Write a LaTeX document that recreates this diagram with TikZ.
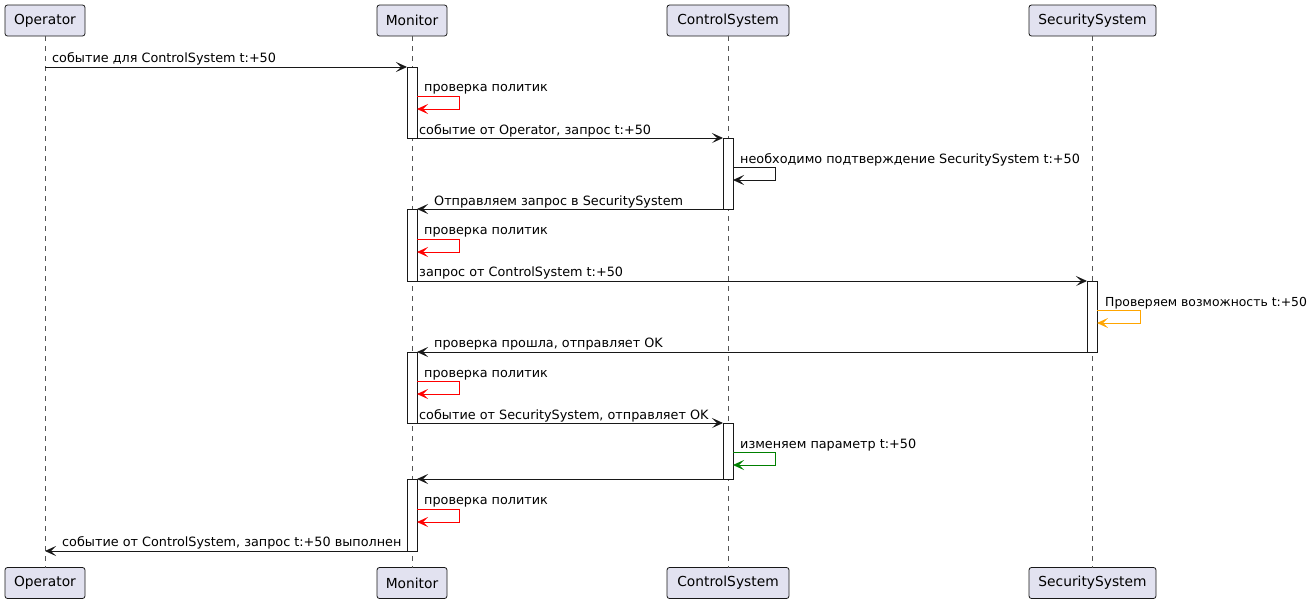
\documentclass[tikz,border=0pt]{standalone}
\usepackage{fontspec}
\setmainfont{DejaVu Sans}
\usetikzlibrary{arrows.meta}
\definecolor{partfill}{HTML}{E2E2F0}
\definecolor{partdraw}{HTML}{181818}
\definecolor{lifegray}{HTML}{555555}
\definecolor{myorange}{HTML}{FFA500}
\definecolor{mygreen}{HTML}{008000}
\begin{document}
\begin{tikzpicture}[x=1pt,y=-1pt,
  part/.style={draw=partdraw,fill=partfill,rounded corners=2.5pt,line width=0.8pt,minimum height=31pt,inner sep=0pt,outer sep=0pt,font=\fontsize{13.8}{16}\selectfont},
  life/.style={draw=lifegray,line width=0.6pt,dash pattern=on 5pt off 5pt},
  act/.style={draw=partdraw,fill=white,line width=0.9pt,minimum width=10pt,inner sep=0pt,outer sep=0pt},
  msg/.style={draw=partdraw,line width=0.9pt,-{Stealth[length=11pt,width=10pt,inset=5pt]}},
  selfmsg/.style={line width=0.9pt,-{Stealth[length=11pt,width=10pt,inset=5pt]}},
  lbl/.style={anchor=base west,inner sep=0pt,font=\fontsize{12.8}{15}\selectfont}
]
\useasboundingbox (0,0) rectangle (1314,603);
% participants
\node[part,minimum width=80pt] (opT) at (45,20.5) {Operator};
\node[part,minimum width=70pt] (moT) at (412,20.5) {Monitor};
\node[part,minimum width=122pt] (csT) at (728,20.5) {ControlSystem};
\node[part,minimum width=127pt] (ssT) at (1092.5,20.5) {SecuritySystem};
\node[part,minimum width=80pt] (opB) at (45,583) {Operator};
\node[part,minimum width=70pt] (moB) at (412,583) {Monitor};
\node[part,minimum width=122pt] (csB) at (728,583) {ControlSystem};
\node[part,minimum width=127pt] (ssB) at (1092.5,583) {SecuritySystem};
% lifelines
\draw[life] (opT) -- (opB);
\draw[life] (moT) -- (moB);
\draw[life] (csT) -- (csB);
\draw[life] (ssT.south -| 1092,0) -- (ssB.north -| 1092,0);
% activations
\node[act,minimum height=71pt] (a1) at (412,102.5) {};
\node[act,minimum height=71pt] (c1) at (728,173.5) {};
\node[act,minimum height=72pt] (a2) at (412,245) {};
\node[act,minimum height=71pt] (s1) at (1092,316.5) {};
\node[act,minimum height=71pt] (a3) at (412,387.5) {};
\node[act,minimum height=56pt] (c2) at (728,451) {};
\node[act,minimum height=72pt] (a4) at (412,515) {};
\coordinate (o1) at (45,67);
\coordinate (o2) at (45,551);
% messages
\draw[msg] (o1) -- (a1.north west);
\node[lbl] (l1) at (52,62) {событие для ControlSystem t:+50};

\draw[selfmsg,red] ([yshift=-29pt]a1.north east) -- ++(42,0) -- ++(0,13) -- ([yshift=-42pt]a1.north east);
\node[lbl] (l2) at (424,91) {проверка политик};

\draw[msg] (a1.south east) -- (c1.north west);
\node[lbl] (l3) at (419,134) {событие от Operator, запрос t:+50};

\draw[selfmsg,partdraw] ([yshift=-29pt]c1.north east) -- ++(42,0) -- ++(0,13) -- ([yshift=-42pt]c1.north east);
\node[lbl] (l4) at (740,163) {необходимо подтверждение SecuritySystem t:+50};

\draw[msg] (c1.south west) -- (a2.north east);
\node[lbl] (l5) at (434,205) {Отправляем запрос в SecuritySystem};

\draw[selfmsg,red] ([yshift=-30pt]a2.north east) -- ++(42,0) -- ++(0,13) -- ([yshift=-43pt]a2.north east);
\node[lbl] (l6) at (424,234) {проверка политик};

\draw[msg] (a2.south east) -- (s1.north west);
\node[lbl] (l7) at (419,276) {запрос от ControlSystem t:+50};

\draw[selfmsg,myorange] ([yshift=-29pt]s1.north east) -- ++(43,0) -- ++(0,13) -- ([yshift=-42pt]s1.north east);
\node[lbl,font=\fontsize{12.4}{15}\selectfont] (l8) at (1105,306) {Проверяем возможность t:+50};

\draw[msg] (s1.south west) -- (a3.north east);
\node[lbl] (l9) at (434,347) {проверка прошла, отправляет OK};

\draw[selfmsg,red] ([yshift=-29pt]a3.north east) -- ++(42,0) -- ++(0,13) -- ([yshift=-42pt]a3.north east);
\node[lbl] (l10) at (424,377) {проверка политик};

\draw[msg] (a3.south east) -- (c2.north west);
\node[lbl] (l11) at (419,419) {событие от SecuritySystem, отправляет OK};

\draw[selfmsg,mygreen] ([yshift=-29pt]c2.north east) -- ++(42,0) -- ++(0,13) -- ([yshift=-42pt]c2.north east);
\node[lbl] (l12) at (740,448) {изменяем параметр t:+50};

\draw[msg] (c2.south west) -- (a4.north east);

\draw[selfmsg,red] ([yshift=-30pt]a4.north east) -- ++(42,0) -- ++(0,13) -- ([yshift=-43pt]a4.north east);
\node[lbl] (l14) at (424,504) {проверка политик};

\draw[msg] (a4.south west) -- (o2);
\node[lbl] (l15) at (62,546) {событие от ControlSystem, запрос t:+50 выполнен};
\end{tikzpicture}
\end{document}
